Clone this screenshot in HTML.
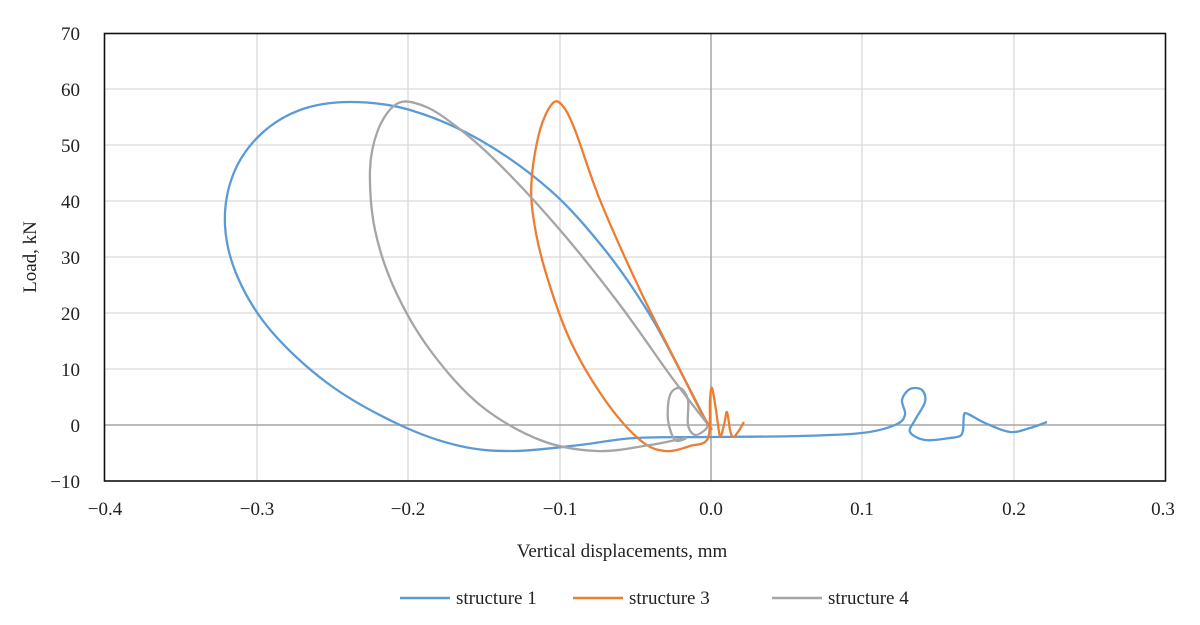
<!DOCTYPE html>
<html><head><meta charset="utf-8"><style>
body{margin:0;background:#fff;}
svg{display:block;}
text{font-family:"Liberation Serif",serif;fill:#222;}
</style></head><body>
<svg id="s" width="1200" height="625" viewBox="0 0 1200 625" xmlns="http://www.w3.org/2000/svg">
<g stroke="#d9d9d9" stroke-width="1.3">
<line x1="105" y1="89" x2="1165" y2="89"/><line x1="105" y1="145" x2="1165" y2="145"/>
<line x1="105" y1="201" x2="1165" y2="201"/><line x1="105" y1="257" x2="1165" y2="257"/>
<line x1="105" y1="313" x2="1165" y2="313"/><line x1="105" y1="369" x2="1165" y2="369"/>
<line x1="257" y1="33" x2="257" y2="481"/><line x1="408" y1="33" x2="408" y2="481"/>
<line x1="560" y1="33" x2="560" y2="481"/><line x1="862" y1="33" x2="862" y2="481"/>
<line x1="1014" y1="33" x2="1014" y2="481"/>
</g>
<g stroke="#a6a6a6" stroke-width="1.5">
<line x1="105" y1="425" x2="1165" y2="425"/><line x1="711" y1="33" x2="711" y2="481"/>
</g>
<rect x="104.5" y="33.5" width="1061" height="447.5" fill="none" stroke="#111" stroke-width="1.6"/>
<g font-size="19" text-anchor="end">
<text x="80" y="40">70</text><text x="80" y="96">60</text><text x="80" y="152">50</text>
<text x="80" y="208">40</text><text x="80" y="264">30</text><text x="80" y="320">20</text>
<text x="80" y="376">10</text><text x="80" y="432">0</text><text x="80" y="488">−10</text>
</g>
<g font-size="19" text-anchor="middle">
<text x="105" y="515">−0.4</text><text x="257" y="515">−0.3</text><text x="408" y="515">−0.2</text>
<text x="560" y="515">−0.1</text><text x="711" y="515">0.0</text><text x="862" y="515">0.1</text>
<text x="1014" y="515">0.2</text><text x="1163" y="515">0.3</text>
<text x="622" y="557">Vertical displacements, mm</text>
<text transform="translate(36,257) rotate(-90)">Load, kN</text>
</g>
<g font-size="19">
<line x1="400" y1="598" x2="450" y2="598" stroke="#5b9bd5" stroke-width="2.5"/><text x="456" y="604">structure 1</text>
<line x1="573" y1="598" x2="623" y2="598" stroke="#ed7d31" stroke-width="2.5"/><text x="629" y="604">structure 3</text>
<line x1="772" y1="598" x2="822" y2="598" stroke="#a5a5a5" stroke-width="2.5"/><text x="828" y="604">structure 4</text>
</g>
<path id="b" fill="none" stroke="#5b9bd5" stroke-width="2.3"/>
<path id="o" fill="none" stroke="#ed7d31" stroke-width="2.3"/>
<path id="g" fill="none" stroke="#a5a5a5" stroke-width="2.3"/>
</svg>
<script>
function cr(p){var d="M"+p[0][0]+","+p[0][1];for(var i=0;i<p.length-1;i++){var a=p[i-1]||p[i],b=p[i],c=p[i+1],e=p[i+2]||c;
d+=" C"+(b[0]+(c[0]-a[0])/6).toFixed(1)+","+(b[1]+(c[1]-a[1])/6).toFixed(1)+" "+(c[0]-(e[0]-b[0])/6).toFixed(1)+","+(c[1]-(e[1]-b[1])/6).toFixed(1)+" "+c[0]+","+c[1];}return d;}
var B=[[708,425],[685,380],[650,315],[605,250],[550,190],[480,140],[410,110],[350,102],[300,110],[260,135],[233,175],[225,225],[238,278],[272,332],[330,385],[400,425],[460,446],[514,451],[580,445],[635,438],[711,437],[800,436],[862,433],[895,425],[905,415],[902,400],[910,389],[922,390],[925,402],[915,420],[910,432],[925,440],[950,438],[960,436],[963,430],[964,415],[968,414],[985,423],[1010,432],[1030,428],[1047,422]];
var O=[[712,430],[700,410],[680,370],[640,290],[600,200],[575,130],[562,105],[552,104],[540,130],[532,175],[533,215],[545,270],[570,340],[605,400],[640,440],[665,451],[690,446],[708,438],[710,400],[712,388],[716,410],[720,436],[724,425],[727,412],[730,430],[733,437],[738,432],[744,422]];
var G=[[706,422],[670,375],[620,305],[560,230],[495,160],[445,118],[415,103],[395,105],[378,130],[370,170],[375,230],[395,290],[430,350],[480,405],[540,440],[597,451],[650,445],[685,438],[675,440],[668,420],[670,395],[680,388],[688,400],[688,425],[695,435],[705,430],[708,425]];
document.getElementById("b").setAttribute("d",cr(B));
document.getElementById("o").setAttribute("d",cr(O));
document.getElementById("g").setAttribute("d",cr(G));
</script>
</body></html>
